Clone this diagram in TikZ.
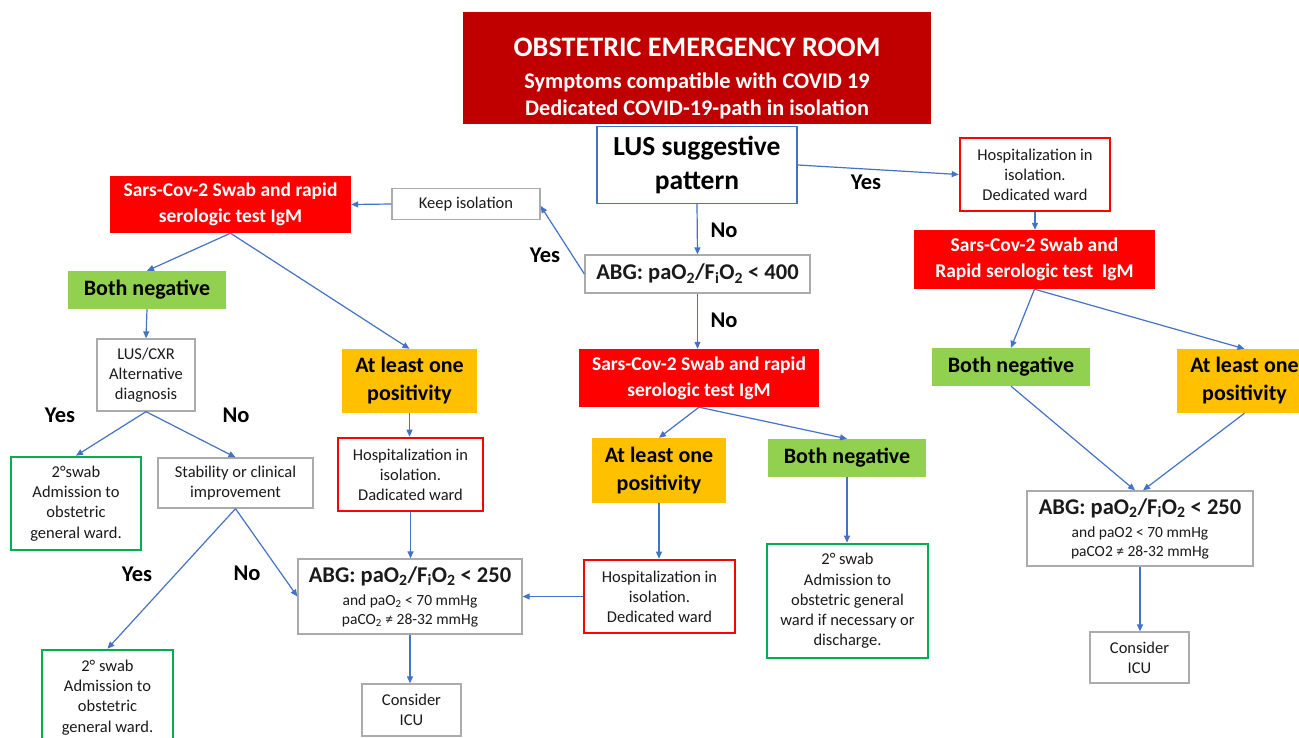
\documentclass[tikz,border=0pt]{standalone}
\usepackage{fontspec}
\setmainfont{Carlito}
\usetikzlibrary{arrows.meta,calc}
\definecolor{darkred}{HTML}{C00000}
\definecolor{redf}{HTML}{FF0000}
\definecolor{greenf}{HTML}{92D050}
\definecolor{orangef}{HTML}{FFC000}
\definecolor{greenl}{HTML}{00B050}
\definecolor{bluel}{HTML}{4472C4}
\definecolor{grayb}{HTML}{ABABAB}
\definecolor{txt}{HTML}{1A1A1A}
\tikzset{
  box/.style={rectangle, inner sep=0pt, align=center, anchor=center},
  gbox/.style={box, draw=grayb, line width=1.3pt, fill=white, text=txt, font=\fontsize{16.5}{20}\selectfont},
  redbox/.style={box, fill=redf, text=white, font=\bfseries\fontsize{19.5}{26}\selectfont},
  greenfill/.style={box, fill=greenf, text=black, font=\bfseries\fontsize{22}{28}\selectfont},
  orangefill/.style={box, fill=orangef, text=black, font=\bfseries\fontsize{22}{28}\selectfont},
  redline/.style={box, draw=redf, line width=2.6pt, fill=white, text=txt, font=\fontsize{16.5}{20}\selectfont},
  greenline/.style={box, draw=greenl, line width=2.6pt, fill=white, text=txt, font=\fontsize{16.5}{20.3}\selectfont},
  lbl/.style={font=\bfseries\fontsize{22.5}{27}\selectfont, text=black, inner sep=0pt},
  arr/.style={draw=bluel, line width=1.2pt, -{Triangle[length=7pt,width=6pt]}},
  sz/.style n args={2}{minimum width=#1, minimum height=#2},
}
\newcommand{\abgbig}[1]{{\bfseries\fontsize{22.5}{27}\selectfont ABG: paO\textsubscript{2}/F\textsubscript{i}O\textsubscript{2} < #1}}
\begin{document}
\begin{tikzpicture}[x=1pt,y=-1pt]
\useasboundingbox (0,0) rectangle (1299,737);
\clip (0,0) rectangle (1299,737);
\fill[white] (0,0) rectangle (1299,737);

% top
\node[box, fill=darkred, sz={468}{112}] (top) at (697,68) {};
\node[box, text=white, font=\bfseries\fontsize{22.3}{27}\selectfont] (toptext) at (697,78.5)
  {{\fontsize{28.2}{33}\selectfont OBSTETRIC EMERGENCY ROOM}\\[5pt] Symptoms compatible with COVID 19\\ Dedicated COVID-19-path in isolation};
\node[box, draw=bluel, line width=1.4pt, fill=white, sz={200}{77}, font=\bfseries\fontsize{27.5}{34}\selectfont] (lus) at (697,165)
  {LUS suggestive\\ pattern};
\node[gbox, sz={225}{38}, font=\bfseries\fontsize{22.5}{27}\selectfont] (abg400) at (697.5,274)
  {ABG: paO\textsubscript{2}/F\textsubscript{i}O\textsubscript{2} < 400};
\node[gbox, sz={148}{31}] (keep) at (466,204) {Keep isolation};

% left branch
\node[redbox, sz={241}{57}] (sarsL) at (230.5,204.5) {Sars-Cov-2 Swab and rapid\\ serologic test IgM};
\node[greenfill, sz={158}{38}] (bnL) at (147,290) {Both negative};
\node[gbox, sz={98}{72}] (cxr) at (146,375) {LUS/CXR\\ Alternative\\ diagnosis};
\node[orangefill, sz={135}{64}] (alL) at (409.5,381) {At least one\\ positivity};
\node[redline, sz={145}{73}] (hospL) at (410.5,474.5) {Hospitalization in\\ isolation.\\ Dadicated ward};
\node[greenline, sz={130}{93}] (swL1) at (76,503.5) {2°swab\\ Admission to\\ obstetric\\ general ward.};
\node[gbox, sz={155}{50}] (stab) at (235.5,483) {Stability or clinical\\ improvement};
\node[greenline, sz={131}{95}] (swL2) at (107.5,697.5) {2° swab\\ Admission to\\ obstetric\\ general ward.};
\node[gbox, sz={224}{75}, font=\fontsize{15.5}{19}\selectfont] (abgL) at (410,596.5)
  {\abgbig{250}\\[4pt] and paO\textsubscript{2} < 70 mmHg\\ paCO\textsubscript{2} ≠ 28-32 mmHg};
\node[gbox, sz={99}{52}] (icuL) at (411.5,710) {Consider\\ ICU};

% middle branch
\node[redbox, sz={240}{58}] (sarsM) at (699,378) {Sars-Cov-2 Swab and rapid\\ serologic test IgM};
\node[orangefill, sz={134}{65}] (alM) at (659,470.5) {At least one\\ positivity};
\node[greenfill, sz={158}{38}] (bnM) at (847,458) {Both negative};
\node[redline, sz={151}{73}] (hospM) at (659.5,596.5) {Hospitalization in\\ isolation.\\ Dedicated ward};
\node[greenline, sz={161}{114}] (swM) at (847.5,601) {2° swab\\ Admission to\\ obstetric general\\ ward if necessary or\\ discharge.};

% right branch
\node[redline, sz={150}{73}] (hospR) at (1035,174.5) {Hospitalization in\\ isolation.\\ Dedicated ward};
\node[redbox, sz={241}{59}] (sarsR) at (1034.5,259.5) {Sars-Cov-2 Swab and\\ Rapid serologic test~ IgM};
\node[greenfill, sz={158}{38}] (bnR) at (1011,367) {Both negative};
\node[orangefill, sz={135}{64}] (alR) at (1244.5,381) {At least one\\ positivity};
\node[gbox, sz={226}{75}, font=\fontsize{15.5}{19}\selectfont] (abgR) at (1140,528.5)
  {\abgbig{250}\\[4pt] and paO2 < 70 mmHg\\ paCO2 ≠ 28-32 mmHg};
\node[gbox, sz={99}{51}] (icuR) at (1139.5,657.5) {Consider\\ ICU};

% labels
\node[lbl] (l1) at (866,182) {Yes};
\node[lbl] (l2) at (724,230) {No};
\node[lbl] (l3) at (545,255) {Yes};
\node[lbl] (l4) at (724,320) {No};
\node[lbl] (l5) at (60,415) {Yes};
\node[lbl] (l6) at (236,415) {No};
\node[lbl] (l7) at (137,574) {Yes};
\node[lbl] (l8) at (247,573) {No};

% connectors
\draw[arr] (lus.east) -- (hospR.west);
\draw[arr] (lus.south) -- (abg400.north);
\draw[arr] (abg400.west) -- ($(keep.east)+(0,2)$);
\draw[arr] (keep.west) -- (sarsL.east);
\draw[arr] (sarsL.south) -- (bnL.north);
\draw[arr] (sarsL.south) -- (alL.north);
\draw[arr] (bnL.south) -- (cxr.north);
\draw[arr] (cxr.south) -- (swL1.north);
\draw[arr] (cxr.south) -- (stab.north);
\draw[arr] (alL.south) -- (alL.south |- hospL.north);
\draw[arr] (hospL.south) -- (hospL.south |- abgL.north);
\draw[arr] (stab.south) -- (swL2.north);
\draw[arr] (stab.south) -- (abgL.west);
\draw[arr] (abgL.south) -- (abgL.south |- icuL.north);
\draw[arr] (hospM.west) -- (abgL.east);
\draw[arr] (abg400.south) -- (abg400.south |- sarsM.north);
\draw[arr] (sarsM.south) -- (alM.north);
\draw[arr] (sarsM.south) -- (bnM.north);
\draw[arr] (alM.south) -- (alM.south |- hospM.north);
\draw[arr] (bnM.south) -- (bnM.south |- swM.north);
\draw[arr] (hospR.south) -- (hospR.south |- sarsR.north);
\draw[arr] (sarsR.south) -- (bnR.north);
\draw[arr] (sarsR.south) -- (alR.north);
\draw[arr] (bnR.south) -- ($(abgR.north)+(-5,0)$);
\draw[arr] (alR.south) -- ($(abgR.north)+(3,0)$);
\draw[arr] (abgR.south) -- (abgR.south |- icuR.north);
\end{tikzpicture}
\end{document}
